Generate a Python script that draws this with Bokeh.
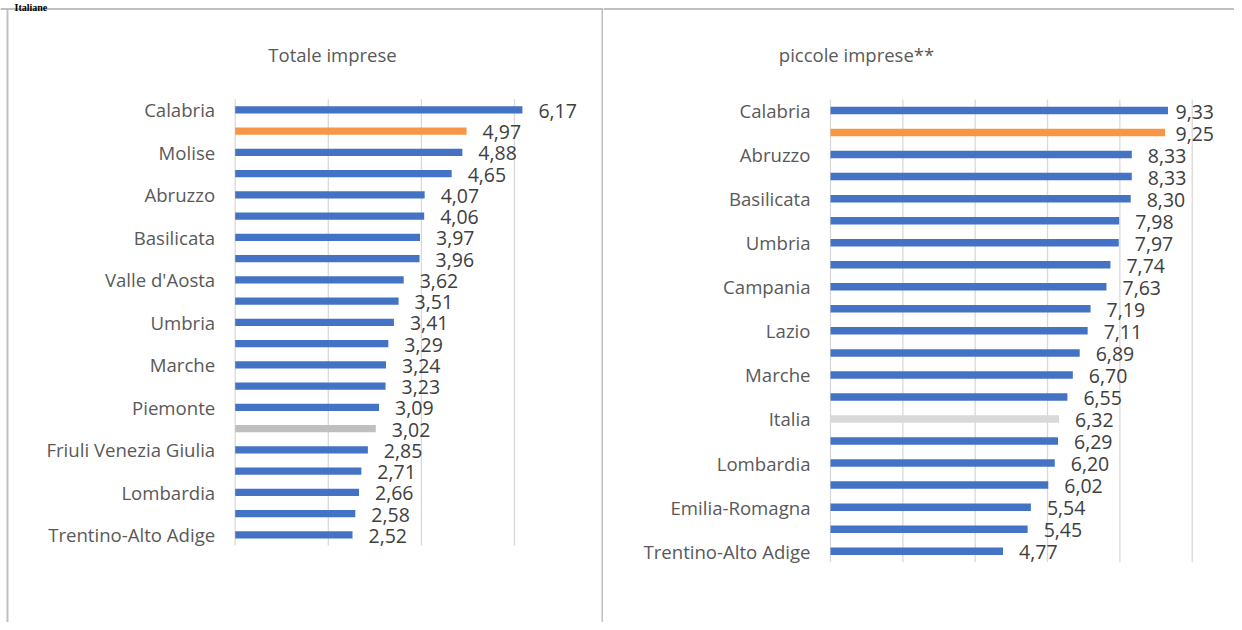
from bokeh.plotting import figure
from bokeh.models import Range1d
from bokeh.layouts import row
from bokeh.core.properties import value
from bokeh.embed import file_html
from bokeh.resources import INLINE

# ---------------- data ----------------
caption = "Italiane"
title_tot = "Totale imprese"
cat_tot = ["Calabria", "Sicilia", "Molise", "Campania", "Abruzzo", "Puglia",
           "Basilicata", "Sardegna", "Valle d'Aosta", "Lazio", "Umbria", "Liguria",
           "Marche", "Toscana", "Piemonte", "Italia", "Friuli Venezia Giulia",
           "Emilia-Romagna", "Lombardia", "Veneto", "Trentino-Alto Adige"]
val_tot = [6.17, 4.97, 4.88, 4.65, 4.07, 4.06, 3.97, 3.96, 3.62, 3.51, 3.41,
           3.29, 3.24, 3.23, 3.09, 3.02, 2.85, 2.71, 2.66, 2.58, 2.52]
ticks_tot = [0, 2, 4, 6]

title_small = "piccole imprese**"
cat_small = ["Calabria", "Sicilia", "Abruzzo", "Molise", "Basilicata", "Puglia",
             "Umbria", "Sardegna", "Campania", "Valle d'Aosta", "Lazio", "Liguria",
             "Marche", "Toscana", "Italia", "Piemonte", "Lombardia",
             "Friuli Venezia Giulia", "Emilia-Romagna", "Veneto", "Trentino-Alto Adige"]
val_small = [9.33, 9.25, 8.33, 8.33, 8.30, 7.98, 7.97, 7.74, 7.63, 7.19, 7.11,
             6.89, 6.70, 6.55, 6.32, 6.29, 6.20, 6.02, 5.54, 5.45, 4.77]
ticks_small = [0, 2, 4, 6, 8, 10]

highlight = "Sicilia"
national = "Italia"

# ---------------- style ----------------
FONT = "Open Sans"
BLUE = "#4472C4"
ORANGE = "#F79646"
BORDER = "#BFBFBF"
GRID = "#D9D9D9"
H = 622
TOP_PX, BOTTOM_PX = 0, 622


def fmt(v):
    return f"{v:.2f}".replace(".", ",")


def panel(cats, vals, ticks, title, left_px, width, zero_px, unit_px,
          first_px, step_px, gray, title_px, label_max_px=None,
          vborders_px=(), top_border_px=8.5, caption_px=None):
    n = len(cats)
    x0 = (left_px - zero_px) / unit_px
    x1 = (left_px + width - zero_px) / unit_px
    ybot = (BOTTOM_PX - first_px) / step_px
    ytop = (TOP_PX - first_px) / step_px
    p = figure(width=width, height=H, output_backend="svg", toolbar_location=None,
               x_range=Range1d(x0, x1), y_range=Range1d(ybot, ytop),
               x_axis_location=None, y_axis_location=None, min_border=0,
               background_fill_color="white", border_fill_color="white")
    p.outline_line_color = None
    p.xgrid.visible = False
    p.ygrid.visible = False

    def dx(px):
        return (px - zero_px) / unit_px

    def dy(py):
        return (py - first_px) / step_px

    # panel borders
    yb = dy(top_border_px)
    p.segment(x0=[x0], y0=[yb], x1=[x1], y1=[yb], line_color=BORDER, line_width=2)
    for bx in vborders_px:
        p.segment(x0=[dx(bx)], y0=[yb], x1=[dx(bx)], y1=[ybot], line_color=BORDER,
                  line_width=2)

    # gridlines
    p.segment(x0=ticks, y0=[-0.5] * len(ticks), x1=ticks, y1=[n - 0.5] * len(ticks),
              line_color=GRID, line_width=1.3)

    idx = list(range(n))
    colors = [ORANGE if c == highlight else (gray if c == national else BLUE) for c in cats]
    p.hbar(y=idx, left=0, right=vals, height=0.34, fill_color=colors, line_color=None)

    # data labels
    off = 16 / unit_px
    lab_x = []
    for v in vals:
        x = v + off
        if label_max_px is not None:
            x = min(x, dx(label_max_px))
        lab_x.append(x)
    p.text(x=lab_x, y=idx, text=[fmt(v) for v in vals], text_align="left",
           text_baseline="middle", text_font=value(FONT), text_font_size="19.5px",
           text_color="#404040", y_offset=1)

    # category labels (every other)
    shown = idx[::2]
    p.text(x=[0] * len(shown), y=shown, text=[cats[i] for i in shown],
           text_align="right", text_baseline="middle", x_offset=-20,
           text_font=value(FONT), text_font_size="18.6px", text_color="#595959")

    # title
    p.text(x=[dx(title_px[0])], y=[dy(title_px[1])], text=[title], text_align="center",
           text_baseline="middle", text_font=value(FONT), text_font_size="18.5px",
           text_color="#595959")

    if caption_px is not None:
        p.text(x=[dx(caption_px[0])], y=[dy(caption_px[1])], text=[caption],
               text_align="left", text_baseline="alphabetic",
               text_font=value("Liberation Serif"), text_font_style="bold",
               text_font_size="10px", text_color="#000000")
    return p


p1 = panel(cat_tot, val_tot, ticks_tot, title_tot, left_px=0, width=603,
           zero_px=234.7, unit_px=46.55, first_px=109.3, step_px=21.25,
           gray="#BFBFBF", title_px=(332, 54), vborders_px=(7, 602),
           caption_px=(14, 7))
p2 = panel(cat_small, val_small, ticks_small, title_small, left_px=603, width=631,
           zero_px=830.0, unit_px=36.17, first_px=110.0, step_px=22.035,
           gray="#D9D9D9", title_px=(856, 54), label_max_px=1175)
p = row(p1, p2)

open("out.html", "w").write(file_html(p, INLINE))
